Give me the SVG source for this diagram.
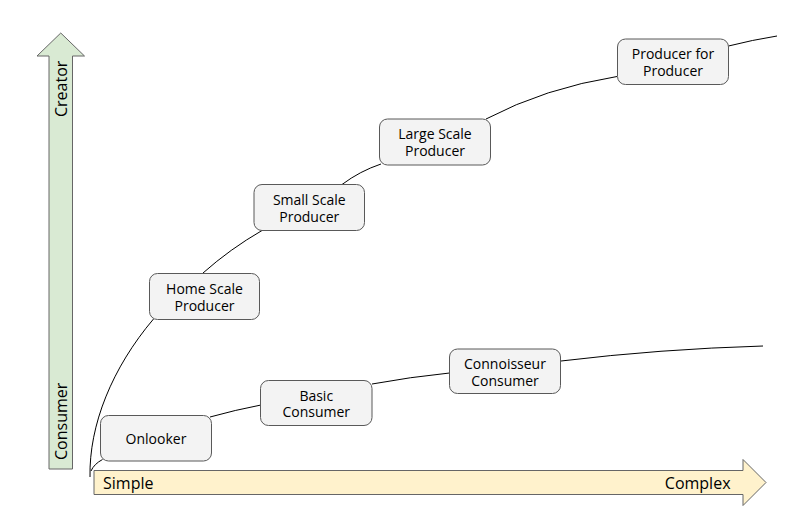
<svg xmlns="http://www.w3.org/2000/svg" width="800" height="511" viewBox="0 0 800 511">
<style>
text{font-family:"Open Sans","Noto Sans","Liberation Sans",sans-serif;fill:#000}
.node rect{fill:#f3f3f3;stroke:#595959;stroke-width:1}
.node text{font-size:14px;text-anchor:middle}
.axis text{font-size:16px}
.conn path{fill:none;stroke:#000;stroke-width:1}
</style>
<rect width="800" height="511" fill="#fff"/>
<g id="axis-y" class="axis">
<polygon points="49,469 49,56 37,56 60.75,33 84.5,56 72.5,56 72.5,469" fill="#d9ead3" stroke="#666" stroke-width="1"/>
<text transform="translate(66.5,117) rotate(-90)">Creator</text>
<text transform="translate(66.5,460) rotate(-90)">Consumer</text>
</g>
<g id="axis-x" class="axis">
<polygon points="94,470.5 743,470.5 743,459.5 766,482.5 743,505.5 743,494.5 94,494.5" fill="#fff2cc" stroke="#666" stroke-width="1"/>
<text x="103" y="488.5">Simple</text>
<text x="730.5" y="488.5" text-anchor="end">Complex</text>
</g>
<g id="connectors" class="conn">
<path d="M90,477 C89,425 112,368 153.5,319"/>
<path d="M203,273 Q230,249 262,230.5"/>
<path d="M342,184.5 Q360,171 381,164"/>
<path d="M486,119 Q545,88 617,76.5"/>
<path d="M728.5,46 Q752,40 777,36"/>
<path d="M102.5,459.5 Q94,464 91,471"/>
<path d="M210,417 Q235,410 261,405"/>
<path d="M372,384 Q410,377 449.5,373"/>
<path d="M561,361 Q660,349 763,346"/>
</g>
<g id="onlooker" class="node">
<rect x="100.5" y="415.5" width="111" height="45.5" rx="8"/>
<text x="156" y="444">Onlooker</text>
</g>
<g id="basic-consumer" class="node">
<rect x="260.5" y="380.5" width="111.5" height="45" rx="8"/>
<text x="316.25" y="400.5">Basic</text>
<text x="316.25" y="417">Consumer</text>
</g>
<g id="connoisseur-consumer" class="node">
<rect x="449.5" y="349" width="111" height="44.5" rx="8"/>
<text x="505" y="369.3">Connoisseur</text>
<text x="505" y="386">Consumer</text>
</g>
<g id="home-scale-producer" class="node">
<rect x="149.5" y="273.5" width="110" height="46" rx="8"/>
<text x="204.5" y="294.3">Home Scale</text>
<text x="204.5" y="310.7">Producer</text>
</g>
<g id="small-scale-producer" class="node">
<rect x="254" y="184.5" width="110.5" height="46" rx="8"/>
<text x="309.25" y="205">Small Scale</text>
<text x="309.25" y="221.5">Producer</text>
</g>
<g id="large-scale-producer" class="node">
<rect x="379.5" y="119" width="111" height="46" rx="8"/>
<text x="435" y="139.3">Large Scale</text>
<text x="435" y="156">Producer</text>
</g>
<g id="producer-for-producer" class="node">
<rect x="617.5" y="39" width="111" height="45.5" rx="8"/>
<text x="673" y="59.3">Producer for</text>
<text x="673" y="76">Producer</text>
</g>
</svg>
